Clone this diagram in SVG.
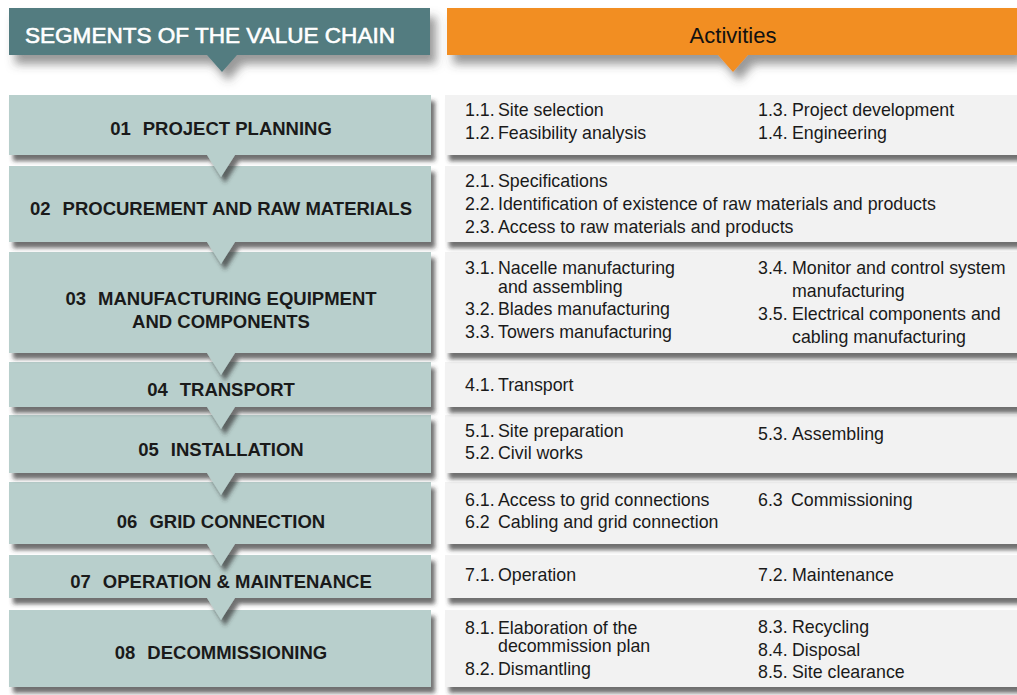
<svg xmlns="http://www.w3.org/2000/svg" width="1017" height="695" viewBox="0 0 1017 695">
<style>
.seg{fill:#b8cfcc;filter:url(#sh)}
.act{fill:#f2f2f2;filter:url(#sh)}
.lbl{font-family:"Liberation Sans",Arial,sans-serif;font-weight:bold;font-size:18.5px;fill:#1a1a1a;text-anchor:middle}
.t{font-family:"Liberation Sans",Arial,sans-serif;font-size:17.8px;fill:#1a1a1a}
.hd{font-family:"Liberation Sans",Arial,sans-serif;font-size:22px}
</style>
<defs>
<filter id="sh" x="-5%" y="-20%" width="115%" height="160%">
<feDropShadow dx="4" dy="6" stdDeviation="2.2" flood-color="#333" flood-opacity="0.7"/>
</filter>
<filter id="hsh" x="-10%" y="-30%" width="125%" height="200%">
<feDropShadow dx="6" dy="9" stdDeviation="5" flood-color="#444" flood-opacity="0.55"/>
</filter>
</defs>
<rect width="1017" height="695" fill="#ffffff"/>

<g id="header-segments">
<polygon points="9,8 430,8 430,55 237,55 222,72 207,55 9,55" fill="#527c80" filter="url(#hsh)"/>
<text class="hd" x="25" y="43" fill="#ffffff" stroke="#ffffff" stroke-width="0.6" textLength="370" lengthAdjust="spacingAndGlyphs">SEGMENTS OF THE VALUE CHAIN</text>
</g>
<g id="header-activities">
<polygon points="447,8 1017,8 1017,55 748,55 733,72 718,55 447,55" fill="#f28e22" filter="url(#hsh)"/>
<text class="hd" x="733" y="43" fill="#111111" text-anchor="middle">Activities</text>
</g>

<g id="activities">
<g id="act8"><rect class="act" x="445" y="610" width="580" height="77"/>
<text class="t"><tspan x="465" y="634">8.1.</tspan><tspan x="498" y="634">Elaboration of the</tspan><tspan x="498" y="652">decommission plan</tspan><tspan x="465" y="675">8.2.</tspan><tspan x="498" y="675">Dismantling</tspan><tspan x="758" y="633">8.3.</tspan><tspan x="792" y="633">Recycling</tspan><tspan x="758" y="656">8.4.</tspan><tspan x="792" y="656">Disposal</tspan><tspan x="758" y="678">8.5.</tspan><tspan x="792" y="678">Site clearance</tspan></text></g>
<g id="act7"><rect class="act" x="445" y="555" width="580" height="43"/>
<text class="t"><tspan x="465" y="581">7.1.</tspan><tspan x="498" y="581">Operation</tspan><tspan x="758" y="581">7.2.</tspan><tspan x="792" y="581">Maintenance</tspan></text></g>
<g id="act6"><rect class="act" x="445" y="482" width="580" height="62"/>
<text class="t"><tspan x="465" y="506">6.1.</tspan><tspan x="498" y="506">Access to grid connections</tspan><tspan x="465" y="528">6.2</tspan><tspan x="498" y="528">Cabling and grid connection</tspan><tspan x="758" y="506">6.3</tspan><tspan x="791" y="506">Commissioning</tspan></text></g>
<g id="act5"><rect class="act" x="445" y="415" width="580" height="58"/>
<text class="t"><tspan x="465" y="437">5.1.</tspan><tspan x="498" y="437">Site preparation</tspan><tspan x="465" y="459">5.2.</tspan><tspan x="498" y="459">Civil works</tspan><tspan x="758" y="440">5.3.</tspan><tspan x="792" y="440">Assembling</tspan></text></g>
<g id="act4"><rect class="act" x="445" y="362" width="580" height="45"/>
<text class="t"><tspan x="465" y="391">4.1.</tspan><tspan x="498" y="391">Transport</tspan></text></g>
<g id="act3"><rect class="act" x="445" y="252" width="580" height="101"/>
<text class="t"><tspan x="465" y="274">3.1.</tspan><tspan x="498" y="274">Nacelle manufacturing</tspan><tspan x="498" y="293">and assembling</tspan><tspan x="465" y="315">3.2.</tspan><tspan x="498" y="315">Blades manufacturing</tspan><tspan x="465" y="338">3.3.</tspan><tspan x="498" y="338">Towers manufacturing</tspan><tspan x="758" y="274">3.4.</tspan><tspan x="792" y="274">Monitor and control system</tspan><tspan x="792" y="297">manufacturing</tspan><tspan x="758" y="320">3.5.</tspan><tspan x="792" y="320">Electrical components and</tspan><tspan x="792" y="343">cabling manufacturing</tspan></text></g>
<g id="act2"><rect class="act" x="445" y="166" width="580" height="76"/>
<text class="t"><tspan x="465" y="187">2.1.</tspan><tspan x="498" y="187">Specifications</tspan><tspan x="465" y="210">2.2.</tspan><tspan x="498" y="210">Identification of existence of raw materials and products</tspan><tspan x="465" y="233">2.3.</tspan><tspan x="498" y="233">Access to raw materials and products</tspan></text></g>
<g id="act1"><rect class="act" x="445" y="95" width="580" height="60"/>
<text class="t"><tspan x="465" y="116">1.1.</tspan><tspan x="498" y="116">Site selection</tspan><tspan x="465" y="139">1.2.</tspan><tspan x="498" y="139">Feasibility analysis</tspan><tspan x="758" y="116">1.3.</tspan><tspan x="792" y="116">Project development</tspan><tspan x="758" y="139">1.4.</tspan><tspan x="792" y="139">Engineering</tspan></text></g>
</g>

<g id="segments">
<g id="seg8"><polygon class="seg" points="9,610 431,610 431,687 9,687"/>
<text class="lbl" x="221" y="658.5">08<tspan dx="12">DECOMMISSIONING</tspan></text></g>
<g id="seg7"><polygon class="seg" points="9,555 431,555 431,598 235,598 221,620 207,598 9,598"/>
<text class="lbl" x="221" y="587.5">07<tspan dx="12">OPERATION &amp; MAINTENANCE</tspan></text></g>
<g id="seg6"><polygon class="seg" points="9,482 431,482 431,544 235,544 221,566 207,544 9,544"/>
<text class="lbl" x="221" y="527.5">06<tspan dx="12">GRID CONNECTION</tspan></text></g>
<g id="seg5"><polygon class="seg" points="9,415 431,415 431,473 235,473 221,495 207,473 9,473"/>
<text class="lbl" x="221" y="455.5">05<tspan dx="12">INSTALLATION</tspan></text></g>
<g id="seg4"><polygon class="seg" points="9,362 431,362 431,407 235,407 221,429 207,407 9,407"/>
<text class="lbl" x="221" y="395.5">04<tspan dx="12">TRANSPORT</tspan></text></g>
<g id="seg3"><polygon class="seg" points="9,252 431,252 431,353 235,353 221,375 207,353 9,353"/>
<text class="lbl" x="221" y="304.5">03<tspan dx="12">MANUFACTURING EQUIPMENT</tspan></text>
<text class="lbl" x="221" y="327.5">AND COMPONENTS</text></g>
<g id="seg2"><polygon class="seg" points="9,166 431,166 431,242 235,242 221,264 207,242 9,242"/>
<text class="lbl" x="221" y="214.5">02<tspan dx="12">PROCUREMENT AND RAW MATERIALS</tspan></text></g>
<g id="seg1"><polygon class="seg" points="9,95 431,95 431,155 235,155 221,177 207,155 9,155"/>
<text class="lbl" x="221" y="134.5">01<tspan dx="12">PROJECT PLANNING</tspan></text></g>
</g>
<g id="connectors"/>
</svg>
